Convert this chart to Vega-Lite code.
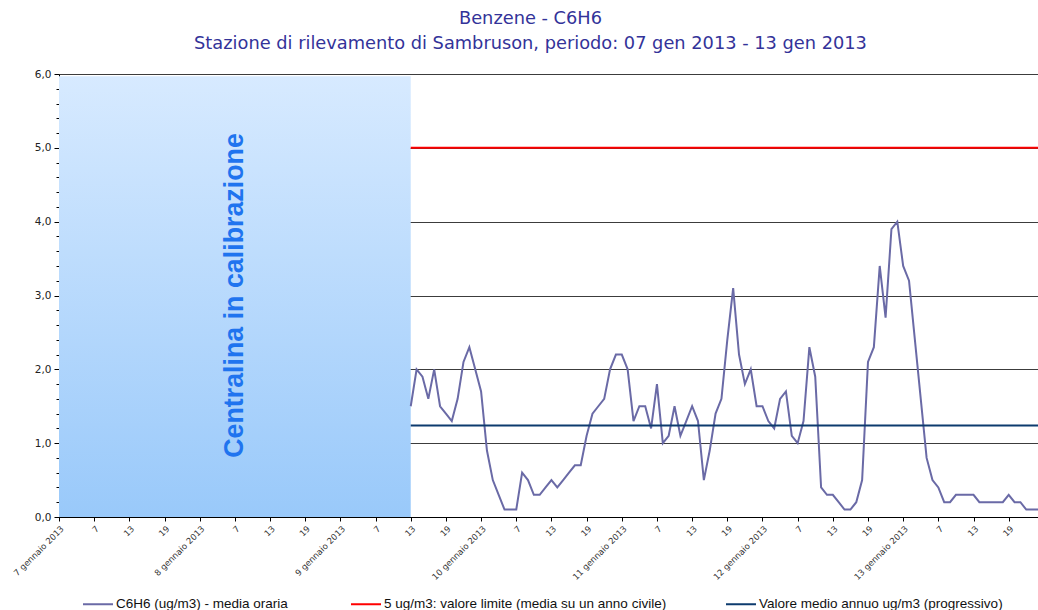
{
  "$schema": "https://vega.github.io/schema/vega-lite/v6.json",
  "autosize": {"type": "none"},
  "padding": {"left": 59, "top": 74, "right": 0, "bottom": 93},
  "width": 979,
  "height": 443,
  "background": "white",
  "title": {
    "text": "Benzene - C6H6",
    "subtitle": "Stazione di rilevamento di Sambruson, periodo: 07 gen 2013 - 13 gen 2013",
    "anchor": "middle",
    "dx": -18,
    "offset": 16,
    "font": "DejaVu Sans",
    "fontSize": 17.8,
    "fontWeight": "normal",
    "color": "#333399",
    "subtitleFont": "DejaVu Sans",
    "subtitleFontSize": 17.8,
    "subtitleColor": "#333399",
    "subtitlePadding": 7
  },
  "config": {
    "view": {"stroke": null},
    "axis": {"titleFont": "DejaVu Sans"}
  },
  "datasets": {
    "banda": [{"da": 0, "a": 60, "basso": 0, "alto": 5.97, "centro": 30, "quota": 3, "testo": "Centralina in calibrazione"}],
    "soglie": [
      {"inizio": 60, "fine": 167, "valore": 5, "serie": "5 ug/m3: valore limite (media su un anno civile)"},
      {"inizio": 60, "fine": 167, "valore": 1.24, "serie": "Valore medio annuo ug/m3 (progressivo)"}
    ],
    "orari": [
      {"ora": 60, "c6h6": 1.5}, {"ora": 61, "c6h6": 2.0}, {"ora": 62, "c6h6": 1.9}, {"ora": 63, "c6h6": 1.6}, {"ora": 64, "c6h6": 2.0},
      {"ora": 65, "c6h6": 1.5}, {"ora": 66, "c6h6": 1.4}, {"ora": 67, "c6h6": 1.3}, {"ora": 68, "c6h6": 1.6}, {"ora": 69, "c6h6": 2.1},
      {"ora": 70, "c6h6": 2.3}, {"ora": 71, "c6h6": 2.0}, {"ora": 72, "c6h6": 1.7}, {"ora": 73, "c6h6": 0.9}, {"ora": 74, "c6h6": 0.5},
      {"ora": 75, "c6h6": 0.3}, {"ora": 76, "c6h6": 0.1}, {"ora": 77, "c6h6": 0.1}, {"ora": 78, "c6h6": 0.1}, {"ora": 79, "c6h6": 0.6},
      {"ora": 80, "c6h6": 0.5}, {"ora": 81, "c6h6": 0.3}, {"ora": 82, "c6h6": 0.3}, {"ora": 83, "c6h6": 0.4}, {"ora": 84, "c6h6": 0.5},
      {"ora": 85, "c6h6": 0.4}, {"ora": 86, "c6h6": 0.5}, {"ora": 87, "c6h6": 0.6}, {"ora": 88, "c6h6": 0.7}, {"ora": 89, "c6h6": 0.7},
      {"ora": 90, "c6h6": 1.1}, {"ora": 91, "c6h6": 1.4}, {"ora": 92, "c6h6": 1.5}, {"ora": 93, "c6h6": 1.6}, {"ora": 94, "c6h6": 2.0},
      {"ora": 95, "c6h6": 2.2}, {"ora": 96, "c6h6": 2.2}, {"ora": 97, "c6h6": 2.0}, {"ora": 98, "c6h6": 1.3}, {"ora": 99, "c6h6": 1.5},
      {"ora": 100, "c6h6": 1.5}, {"ora": 101, "c6h6": 1.2}, {"ora": 102, "c6h6": 1.8}, {"ora": 103, "c6h6": 1.0}, {"ora": 104, "c6h6": 1.1},
      {"ora": 105, "c6h6": 1.5}, {"ora": 106, "c6h6": 1.1}, {"ora": 107, "c6h6": 1.3}, {"ora": 108, "c6h6": 1.5}, {"ora": 109, "c6h6": 1.3},
      {"ora": 110, "c6h6": 0.5}, {"ora": 111, "c6h6": 0.9}, {"ora": 112, "c6h6": 1.4}, {"ora": 113, "c6h6": 1.6}, {"ora": 114, "c6h6": 2.4},
      {"ora": 115, "c6h6": 3.1}, {"ora": 116, "c6h6": 2.2}, {"ora": 117, "c6h6": 1.8}, {"ora": 118, "c6h6": 2.0}, {"ora": 119, "c6h6": 1.5},
      {"ora": 120, "c6h6": 1.5}, {"ora": 121, "c6h6": 1.3}, {"ora": 122, "c6h6": 1.2}, {"ora": 123, "c6h6": 1.6}, {"ora": 124, "c6h6": 1.7},
      {"ora": 125, "c6h6": 1.1}, {"ora": 126, "c6h6": 1.0}, {"ora": 127, "c6h6": 1.3}, {"ora": 128, "c6h6": 2.3}, {"ora": 129, "c6h6": 1.9},
      {"ora": 130, "c6h6": 0.4}, {"ora": 131, "c6h6": 0.3}, {"ora": 132, "c6h6": 0.3}, {"ora": 133, "c6h6": 0.2}, {"ora": 134, "c6h6": 0.1},
      {"ora": 135, "c6h6": 0.1}, {"ora": 136, "c6h6": 0.2}, {"ora": 137, "c6h6": 0.5}, {"ora": 138, "c6h6": 2.1}, {"ora": 139, "c6h6": 2.3},
      {"ora": 140, "c6h6": 3.4}, {"ora": 141, "c6h6": 2.7}, {"ora": 142, "c6h6": 3.9}, {"ora": 143, "c6h6": 4.0}, {"ora": 144, "c6h6": 3.4},
      {"ora": 145, "c6h6": 3.2}, {"ora": 146, "c6h6": 2.4}, {"ora": 147, "c6h6": 1.6}, {"ora": 148, "c6h6": 0.8}, {"ora": 149, "c6h6": 0.5},
      {"ora": 150, "c6h6": 0.4}, {"ora": 151, "c6h6": 0.2}, {"ora": 152, "c6h6": 0.2}, {"ora": 153, "c6h6": 0.3}, {"ora": 154, "c6h6": 0.3},
      {"ora": 155, "c6h6": 0.3}, {"ora": 156, "c6h6": 0.3}, {"ora": 157, "c6h6": 0.2}, {"ora": 158, "c6h6": 0.2}, {"ora": 159, "c6h6": 0.2},
      {"ora": 160, "c6h6": 0.2}, {"ora": 161, "c6h6": 0.2}, {"ora": 162, "c6h6": 0.3}, {"ora": 163, "c6h6": 0.2}, {"ora": 164, "c6h6": 0.2},
      {"ora": 165, "c6h6": 0.1}, {"ora": 166, "c6h6": 0.1}, {"ora": 167, "c6h6": 0.1}
    ]
  },
  "layer": [
    {
      "data": {"name": "banda"},
      "mark": {
        "type": "rect",
        "color": {"gradient": "linear", "x1": 0, "y1": 0, "x2": 0, "y2": 1,
          "stops": [{"offset": 0, "color": "#d7eaff"}, {"offset": 1, "color": "#99c9fa"}]}
      },
      "encoding": {
        "x": {"field": "da", "type": "quantitative",
          "scale": {"domain": [0, 167], "nice": false, "zero": false},
          "axis": {
            "values": [0, 6, 12, 18, 24, 30, 36, 42, 48, 54, 60, 66, 72, 78, 84, 90, 96, 102, 108, 114, 120, 126, 132, 138, 144, 150, 156, 162],
            "tickCount": 500,
            "labelExpr": "datum.value % 24 === 0 ? (7 + datum.value / 24) + ' gennaio 2013' : '' + (datum.value % 24 + 1)",
            "labelAngle": -45,
            "labelOverlap": false,
            "labelFont": "DejaVu Sans",
            "labelFontSize": 8.5,
            "labelColor": "#333333",
            "labelPadding": 3,
            "tickSize": 4,
            "tickColor": "#000000",
            "domainColor": "#000000",
            "grid": false,
            "title": null
          }},
        "x2": {"field": "a"},
        "y": {"field": "basso", "type": "quantitative",
          "scale": {"domain": [0, 6], "nice": false},
          "axis": {
            "values": [0, 0.2, 0.4, 0.6, 0.8, 1, 1.2, 1.4, 1.6, 1.8, 2, 2.2, 2.4, 2.6, 2.8, 3, 3.2, 3.4, 3.6, 3.8, 4, 4.2, 4.4, 4.6, 4.8, 5, 5.2, 5.4, 5.6, 5.8, 6],
            "tickCount": 500,
            "labelExpr": "abs(datum.value - round(datum.value)) < 0.01 ? replace(format(datum.value, '.1f'), '.', ',') : ''",
            "labelOverlap": false,
            "labelFont": "DejaVu Sans",
            "labelFontSize": 10.5,
            "labelColor": "#222222",
            "labelPadding": 3,
            "tickSize": {"condition": {"test": "abs(datum.value - round(datum.value)) < 0.01", "value": 5}, "value": 3},
            "tickColor": "#000000",
            "domainColor": "#000000",
            "grid": true,
            "gridColor": "#3c3c3c",
            "gridWidth": 1,
            "gridOpacity": {"condition": {"test": "abs(datum.value - round(datum.value)) < 0.01", "value": 1}, "value": 0},
            "title": null
          }},
        "y2": {"field": "alto"}
      }
    },
    {
      "data": {"name": "banda"},
      "mark": {"type": "text", "angle": 270, "font": "Liberation Sans", "fontSize": 26.8, "fontWeight": "bold", "color": "#1f74ef", "align": "center", "baseline": "middle"},
      "encoding": {
        "x": {"field": "centro", "type": "quantitative"},
        "y": {"field": "quota", "type": "quantitative"},
        "text": {"field": "testo"}
      }
    },
    {
      "data": {"name": "orari"},
      "transform": [{"calculate": "'C6H6 (ug/m3)  - media oraria'", "as": "serie"}],
      "mark": {"type": "line", "strokeWidth": 2, "interpolate": "linear"},
      "encoding": {
        "x": {"field": "ora", "type": "quantitative"},
        "y": {"field": "c6h6", "type": "quantitative"},
        "color": {"field": "serie", "type": "nominal"}
      }
    },
    {
      "data": {"name": "soglie"},
      "mark": {"type": "rule", "strokeWidth": 2},
      "encoding": {
        "x": {"field": "inizio", "type": "quantitative"},
        "x2": {"field": "fine"},
        "y": {"field": "valore", "type": "quantitative"},
        "color": {"field": "serie", "type": "nominal",
          "scale": {
            "domain": ["C6H6 (ug/m3)  - media oraria", "5 ug/m3: valore limite (media su un anno civile)", "Valore medio annuo ug/m3 (progressivo)"],
            "range": ["#6a6aa6", "#ff0000", "#0d3b6e"]
          },
          "legend": {
            "orient": "none",
            "legendX": 23,
            "legendY": 514,
            "direction": "horizontal",
            "title": null,
            "symbolType": "stroke",
            "symbolStrokeWidth": 2,
            "symbolSize": 900,
            "labelFont": "Liberation Sans",
            "labelFontSize": 13.5,
            "labelColor": "#111111",
            "labelLimit": 500,
            "labelOffset": 2,
            "columnPadding": 55
          }
        }
      }
    }
  ]
}
